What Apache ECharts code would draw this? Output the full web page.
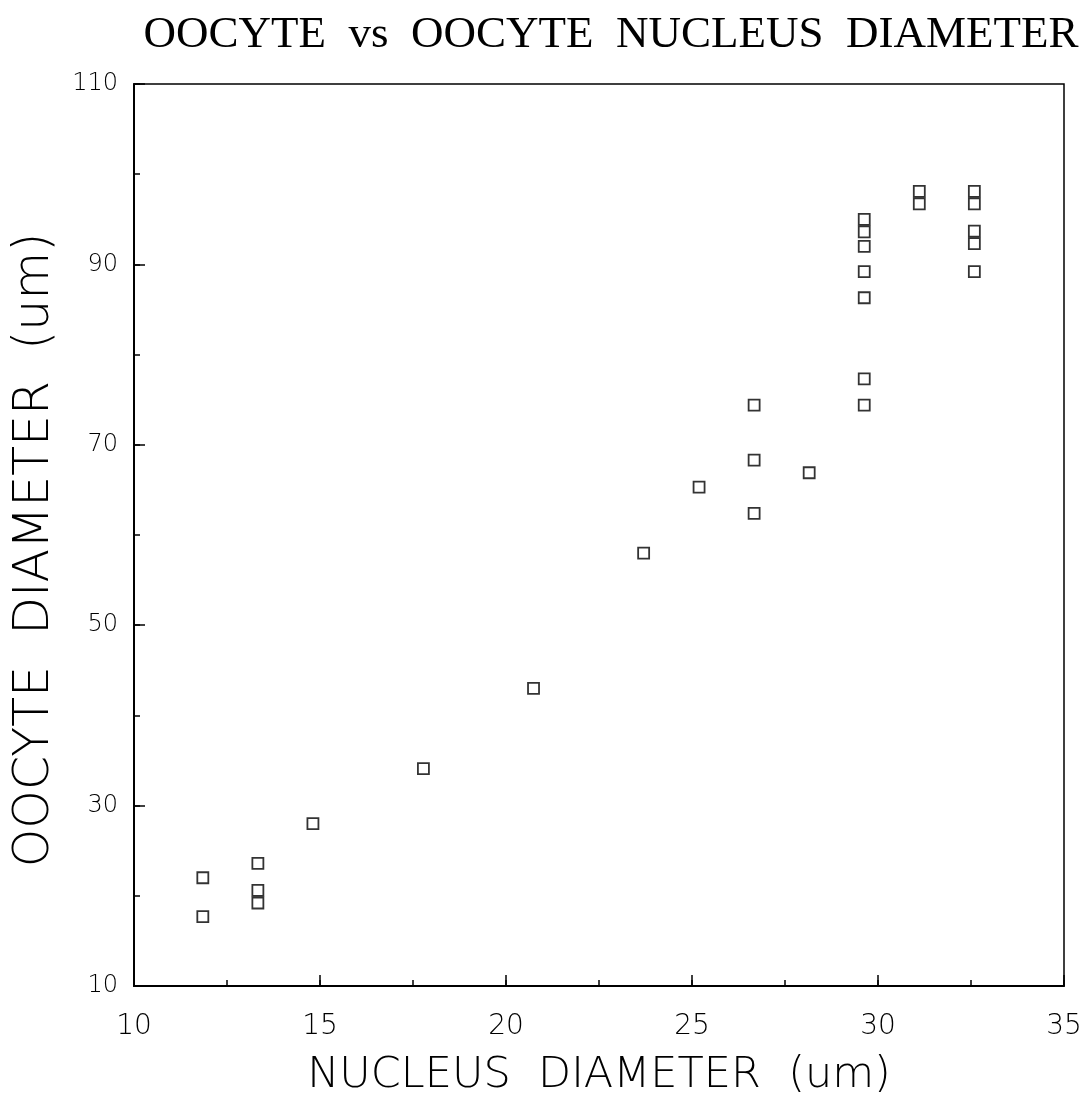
<!DOCTYPE html>
<html>
<head>
<meta charset="utf-8">
<title>Oocyte vs oocyte nucleus diameter</title>
<script src="https://cdn.jsdelivr.net/npm/echarts@6/dist/echarts.min.js"></script>
<style>
  html, body { margin: 0; padding: 0; background: #fff; }
  #chart { width: 1091px; height: 1106px; }
</style>
</head>
<body>
<div id="chart"></div>
<script>
// nucleus diameter (um) and oocyte diameter (um), one entry per measured oocyte
var nucleusDiam = [
  11.85, 11.85,
  13.33, 13.33, 13.33,
  14.81, 17.78, 20.74, 23.70, 25.19,
  26.67, 26.67, 26.67,
  28.15,
  29.63, 29.63, 29.63, 29.63, 29.63, 29.63, 29.63,
  31.11, 31.11,
  32.59, 32.59, 32.59, 32.59, 32.59
];
var oocyteDiam = [
  22.0, 17.7,
  23.6, 20.6, 19.2,
  28.0, 34.1, 43.0, 58.0, 65.3,
  74.4, 68.3, 62.4,
  66.9,
  95.0, 93.6, 92.0, 89.2, 86.3, 77.3, 74.4,
  98.1, 96.7,
  98.1, 96.7, 93.7, 92.3, 89.2
];
var xTicks = { min: 10, max: 35, step: 5, minorStep: 2.5 };
var yTicks = { min: 10, max: 110, step: 20, minorStep: 10 };

var points = nucleusDiam.map(function (x, i) { return [x, oocyteDiam[i]]; });

var axisFont = 'DejaVu Sans';
var box = { left: 134, top: 84, width: 930, height: 902 };
var majorLen = 11, minorLen = 6;
var ink = '#000';

var chart = echarts.init(document.getElementById('chart'));

// inward tick marks: thin strips along the bottom and left edges whose
// split lines (from the same scale) are exactly tick length long
var grids = [
  { left: box.left, top: box.top, width: box.width, height: box.height,
    show: true, borderColor: ink, borderWidth: 1.5 },
  { left: box.left, top: box.top + box.height - majorLen, width: box.width, height: majorLen },
  { left: box.left, top: box.top + box.height - minorLen, width: box.width, height: minorLen },
  { left: box.left, top: box.top, width: majorLen, height: box.height },
  { left: box.left, top: box.top, width: minorLen, height: box.height }
];

function hiddenAxis(gridIndex) {
  return { type: 'value', gridIndex: gridIndex, show: false, min: 0, max: 1 };
}
function tickStrip(gridIndex, t, step) {
  return {
    type: 'value',
    gridIndex: gridIndex,
    min: t.min,
    max: t.max,
    interval: step,
    axisLine: { show: false },
    axisTick: { show: false },
    axisLabel: { show: false },
    splitLine: { show: true, lineStyle: { color: ink, width: 1.5 } }
  };
}

var option = {
  backgroundColor: '#fff',
  animation: false,
  title: {
    text: 'OOCYTE  vs  OOCYTE  NUCLEUS  DIAMETER',
    left: 606,
    textAlign: 'center',
    top: 8,
    textStyle: {
      fontFamily: 'Liberation Serif',
      fontWeight: 'normal',
      fontSize: 45,
      color: ink
    }
  },
  grid: grids,
  xAxis: [
    {
      type: 'value',
      gridIndex: 0,
      min: xTicks.min,
      max: xTicks.max,
      interval: xTicks.step,
      name: 'NUCLEUS  DIAMETER  (um)',
      nameLocation: 'middle',
      nameGap: 68,
      nameTextStyle: { fontFamily: axisFont, fontWeight: 200, fontSize: 43, color: ink },
      axisLine: { show: true, lineStyle: { color: ink, width: 2 } },
      axisTick: { show: false },
      axisLabel: { margin: 27, fontFamily: axisFont, fontWeight: 200, fontSize: 28, color: ink },
      splitLine: { show: false }
    },
    tickStrip(1, xTicks, xTicks.step),
    tickStrip(2, xTicks, xTicks.minorStep),
    hiddenAxis(3),
    hiddenAxis(4)
  ],
  yAxis: [
    {
      type: 'value',
      gridIndex: 0,
      min: yTicks.min,
      max: yTicks.max,
      interval: yTicks.step,
      name: 'OOCYTE  DIAMETER  (um)',
      nameLocation: 'middle',
      nameRotate: 90,
      nameGap: 74,
      nameTextStyle: {
        fontFamily: axisFont, fontWeight: 200, fontSize: 49, color: ink,
        padding: [0, 30, 0, 0]
      },
      axisLine: { show: true, lineStyle: { color: ink, width: 2 } },
      axisTick: { show: false },
      axisLabel: { margin: 16, fontFamily: axisFont, fontWeight: 200, fontSize: 24, color: ink },
      splitLine: { show: false }
    },
    hiddenAxis(1),
    hiddenAxis(2),
    tickStrip(3, yTicks, yTicks.step),
    tickStrip(4, yTicks, yTicks.minorStep)
  ],
  series: [
    {
      type: 'scatter',
      xAxisIndex: 0,
      yAxisIndex: 0,
      symbol: 'rect',
      symbolSize: 11,
      itemStyle: { color: '#fff', borderColor: ink, borderWidth: 1.8 },
      data: points
    }
  ]
};

chart.setOption(option);
</script>
</body>
</html>
